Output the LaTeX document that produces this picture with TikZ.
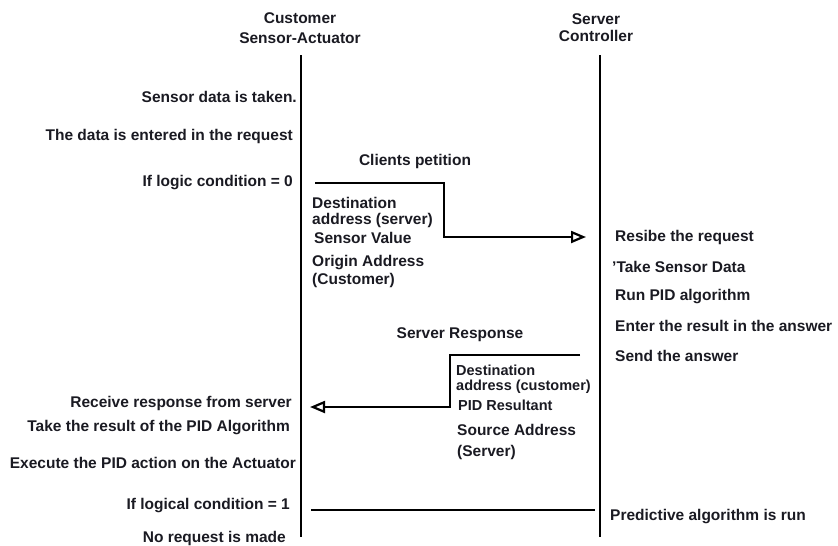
\documentclass[tikz,border=0pt]{standalone}
\usepackage{fontspec}
\setmainfont{Liberation Sans}
\usetikzlibrary{arrows.meta}
\definecolor{txt}{HTML}{1A1A22}
\begin{document}
\begin{tikzpicture}[x=1pt,y=-1pt,
  lbl/.style={inner sep=0pt,text=txt,font=\bfseries\fontsize{15.5}{17}\selectfont},
  lbll/.style={lbl,anchor=west},
  lblr/.style={lbl,anchor=east},
  small/.style={font=\bfseries\fontsize{14.5}{16}\selectfont},
  life/.style={draw=black,line width=2.6pt},
  msg/.style={draw=black,line width=2.4pt},
  tip/.style={-{Triangle[open,length=15pt,width=12pt,line width=2.2pt]}}]
\useasboundingbox (0,0) rectangle (838,546);
% headers
\node[lbl] (h1a) at (300,18) {Customer};
\node[lbl] (h1b) at (300,38) {Sensor-Actuator};
\node[lbl] (h2a) at (596,19) {Server};
\node[lbl] (h2b) at (596,36) {Controller};
% lifelines
\coordinate (c1top) at (301,55);
\coordinate (c1bot) at (301,537);
\coordinate (c2top) at (600,55);
\coordinate (c2bot) at (600,537);
\draw[life] (c1top) -- (c1bot);
\draw[life,line width=2pt] (c2top) -- (c2bot);
% left labels
\node[lblr] (l1) at (297,97) {Sensor data is taken.};
\node[lblr] (l2) at (293,136) {The data is entered in the request};
\node[lblr] (l3) at (293,183) {If logic condition = 0};
\node[lblr] (l4) at (292,403) {Receive response from server};
\node[lblr] (l5) at (290,428) {Take the result of the PID Algorithm};
\node[lblr] (l6) at (296,463) {Execute the PID action on the Actuator};
\node[lblr] (l7) at (290,506) {If logical condition = 1};
\node[lblr] (l8) at (286,538) {No request is made};
% right labels
\node[lbll] (r1) at (615,237) {Resibe the request};
\node[lbll] (r2) at (612,267) {'Take Sensor Data};
\node[lbll] (r3) at (615,297) {Run PID algorithm};
\node[lbll] (r4) at (615,326) {Enter the result in the answer};
\node[lbll] (r5) at (615,356) {Send the answer};
\node[lbll] (r6) at (610,517) {Predictive algorithm is run};
% request message
\node[lbl] (m1) at (415,161) {Clients petition};
\coordinate (q1) at (315,183);
\coordinate (q2) at (444,183);
\coordinate (q3) at (444,237);
\coordinate (q4) at (586,237);
\draw[msg,tip] (q1) -- (q2) -- (q3) -- (q4);
\node[lbll] (p1) at (312,203) {Destination};
\node[lbll] (p2) at (312,220) {address (server)};
\node[lbll] (p3) at (314,238) {Sensor Value};
\node[lbll] (p4) at (312,263) {Origin Address};
\node[lbll] (p5) at (312,280) {(Customer)};
% response message
\node[lbl] (m2) at (460,335) {Server Response};
\coordinate (s1) at (580,355);
\coordinate (s2) at (450,355);
\coordinate (s3) at (450,407);
\coordinate (s4) at (310,407);
\draw[msg,tip] (s1) -- (s2) -- (s3) -- (s4);
\node[lbll,small] (d1) at (456,370) {Destination};
\node[lbll,small] (d2) at (456,387) {address (customer)};
\node[lbll,small] (d3) at (458,405) {PID Resultant};
\node[lbll] (d4) at (457,430) {Source Address};
\node[lbll] (d5) at (457,452) {(Server)};
% logical condition 1 line
\coordinate (b1) at (311,510);
\coordinate (b2) at (595,510);
\draw[msg] (b1) -- (b2);
\end{tikzpicture}
\end{document}
